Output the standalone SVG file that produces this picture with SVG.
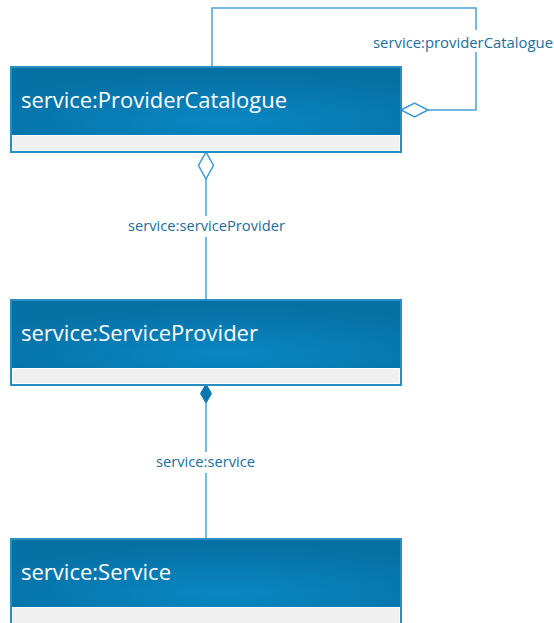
<svg xmlns="http://www.w3.org/2000/svg" width="554" height="623" viewBox="0 0 554 623">
  <defs>
    <radialGradient id="hdr" cx="0.55" cy="0.8" r="0.7" gradientUnits="objectBoundingBox">
      <stop offset="0" stop-color="#0a87c2"/>
      <stop offset="1" stop-color="#0570a4"/>
    </radialGradient>
    <style>
      .frame { fill: none; stroke: #2a8cc4; stroke-width: 2; }
      .head { fill: url(#hdr); }
      .foot { fill: #f0f0f0; stroke: #ffffff; stroke-width: 1; }
      .title { font-family: "Open Sans", "Noto Sans", sans-serif; font-size: 21.5px; fill: #ffffff; }
      .edge { fill: none; stroke: #4aa3d3; stroke-width: 1.5; }
      .agg { fill: #ffffff; stroke: #3a9ad0; stroke-width: 1.5; }
      .comp { fill: #0a78b0; stroke: #0a78b0; stroke-width: 1; }
      .lbl { font-family: "Open Sans", "Noto Sans", sans-serif; font-size: 14.3px; fill: #1c6d98; text-anchor: middle; }
      .mask { fill: #ffffff; }
    </style>
  </defs>
  <rect width="554" height="623" fill="#ffffff"/>

  <g id="connectors">
    <!-- self association on ProviderCatalogue -->
    <polyline class="edge" points="212,67 212,8 476,8 476,110 428,110"/>
    <polygon class="agg" points="401,110 414.5,103 428,110 414.5,117"/>
    <rect class="mask" x="372" y="30" width="182" height="22"/>
    <text class="lbl" x="463" y="48" textLength="180" lengthAdjust="spacingAndGlyphs">service:providerCatalogue</text>

    <!-- ProviderCatalogue to ServiceProvider -->
    <line class="edge" x1="206" y1="179" x2="206" y2="300"/>
    <polygon class="agg" points="206,152 213.5,165.5 206,179 198.5,165.5"/>
    <rect class="mask" x="126" y="216" width="162" height="21"/>
    <text class="lbl" x="206.5" y="231" textLength="157" lengthAdjust="spacingAndGlyphs">service:serviceProvider</text>

    <!-- ServiceProvider to Service -->
    <line class="edge" x1="206" y1="403" x2="206" y2="539"/>
    <polygon class="comp" points="206,384 211.5,393.5 206,403 200.5,393.5"/>
    <rect class="mask" x="154" y="452" width="104" height="21"/>
    <text class="lbl" x="205.5" y="467" textLength="99" lengthAdjust="spacingAndGlyphs">service:service</text>
  </g>

  <g id="node-provider-catalogue">
    <rect class="head" x="11" y="67" width="390" height="68"/>
    <rect class="foot" x="12.5" y="135.5" width="387" height="15"/>
    <rect class="frame" x="11" y="67" width="390" height="85"/>
    <text class="title" x="21" y="108" textLength="266" lengthAdjust="spacingAndGlyphs">service:ProviderCatalogue</text>
  </g>

  <g id="node-service-provider">
    <rect class="head" x="11" y="300" width="390" height="68"/>
    <rect class="foot" x="12.5" y="368.5" width="387" height="15"/>
    <rect class="frame" x="11" y="300" width="390" height="85"/>
    <text class="title" x="21" y="341" textLength="237" lengthAdjust="spacingAndGlyphs">service:ServiceProvider</text>
  </g>

  <g id="node-service">
    <rect class="head" x="11" y="539" width="390" height="68"/>
    <rect class="foot" x="12.5" y="607.5" width="387" height="20"/>
    <rect class="frame" x="11" y="539" width="390" height="95"/>
    <text class="title" x="21" y="580" textLength="150" lengthAdjust="spacingAndGlyphs">service:Service</text>
  </g>
</svg>
